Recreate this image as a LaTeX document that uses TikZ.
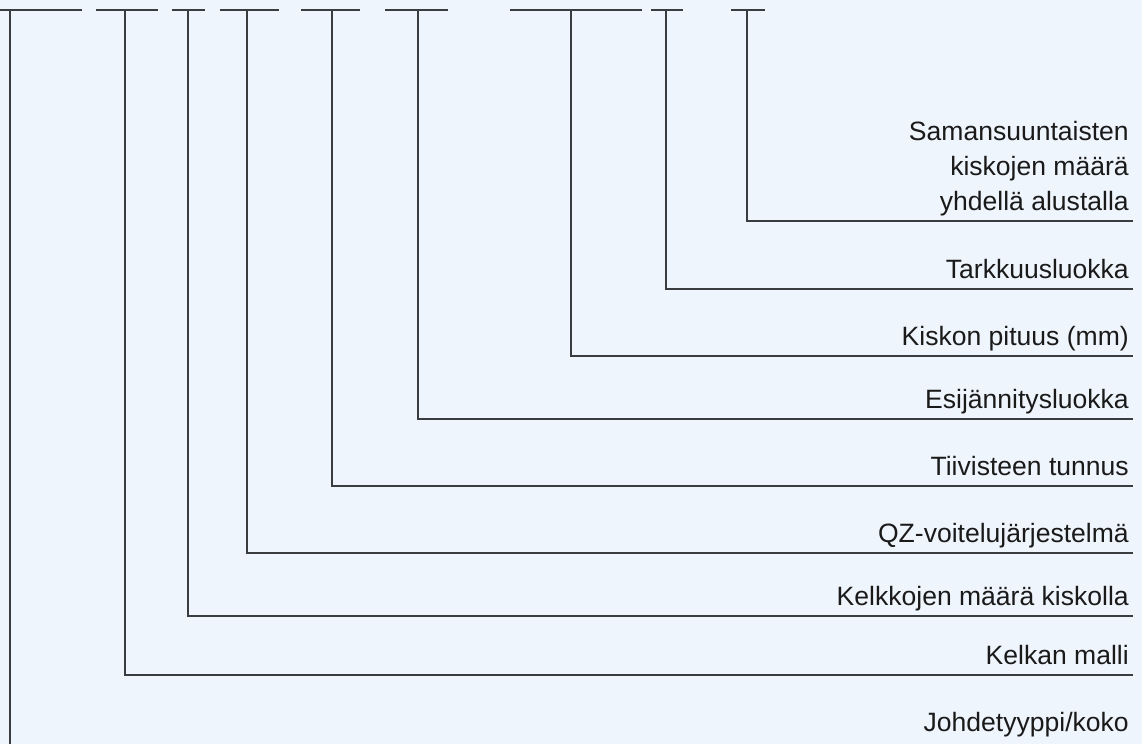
\documentclass[tikz,border=0pt]{standalone}
\usepackage{fontspec}
\setmainfont{Liberation Sans}
\usetikzlibrary{positioning}
\definecolor{paper}{RGB}{239,245,252}
\definecolor{ink}{RGB}{26,26,26}
\definecolor{rule}{RGB}{58,61,64}

\begin{document}
\begin{tikzpicture}[x=0.75pt, y=-0.75pt,
  every node/.style={font=\fontsize{19.9}{26.25}\selectfont, text=ink},
  slot/.style={draw=rule, line width=1.5pt},
  lead/.style={draw=rule, line width=1.1pt},
  tag/.style={anchor=base east, inner sep=0pt, align=right}]
  % page and background
  \fill[paper] (0,0) rectangle (1142,744);
  \useasboundingbox (0,0) rectangle (1142,744);

  % code fields along the top
  \coordinate (s1a) at (0,10);   \coordinate (s1b) at (82,10);
  \coordinate (s2a) at (96,10);  \coordinate (s2b) at (158,10);
  \coordinate (s3a) at (172,10); \coordinate (s3b) at (205,10);
  \coordinate (s4a) at (220,10); \coordinate (s4b) at (279,10);
  \coordinate (s5a) at (301,10); \coordinate (s5b) at (360,10);
  \coordinate (s6a) at (385,10); \coordinate (s6b) at (448,10);
  \coordinate (s7a) at (510,10); \coordinate (s7b) at (642,10);
  \coordinate (s8a) at (651,10); \coordinate (s8b) at (683,10);
  \coordinate (s9a) at (731,10); \coordinate (s9b) at (765,10);
  \foreach \i in {1,...,9}
    \draw[slot] (s\i a) -- (s\i b);

  % drop points under each field
  \coordinate (d1) at (10,10);
  \coordinate (d2) at (125,10);
  \coordinate (d3) at (188,10);
  \coordinate (d4) at (247,10);
  \coordinate (d5) at (332,10);
  \coordinate (d6) at (418,10);
  \coordinate (d7) at (571,10);
  \coordinate (d8) at (666,10);
  \coordinate (d9) at (747,10);

  % right ends of the leaders
  \coordinate (e1) at (10,744);
  \coordinate (e2) at (1133,675);
  \coordinate (e3) at (1133,616);
  \coordinate (e4) at (1133,553);
  \coordinate (e5) at (1133,486);
  \coordinate (e6) at (1133,419);
  \coordinate (e7) at (1133,356);
  \coordinate (e8) at (1133,289);
  \coordinate (e9) at (1133,221);

  % labels
  \node[tag] (rails) at (1129,210) {Samansuuntaisten\\kiskojen määrä\\yhdellä alustalla};
  \node[tag] (grade) at (1129,278) {Tarkkuusluokka};
  \node[tag] (length) at (1129,345) {Kiskon pituus (mm)};
  \node[tag] (preload) at (1129,408) {Esijännitysluokka};
  \node[tag] (seal) at (1129,475) {Tiivisteen tunnus};
  \node[tag] (lube) at (1129,542) {QZ-voitelujärjestelmä};
  \node[tag] (blocks) at (1129,605) {Kelkkojen määrä kiskolla};
  \node[tag] (block) at (1129,664) {Kelkan malli};
  \node[tag] (guide) at (1129,731) {Johdetyyppi/koko};

  % leaders
  \draw[lead] (d1) -- (e1);
  \foreach \i in {2,...,9}
    \draw[lead] (d\i) |- (e\i);
\end{tikzpicture}
\end{document}
